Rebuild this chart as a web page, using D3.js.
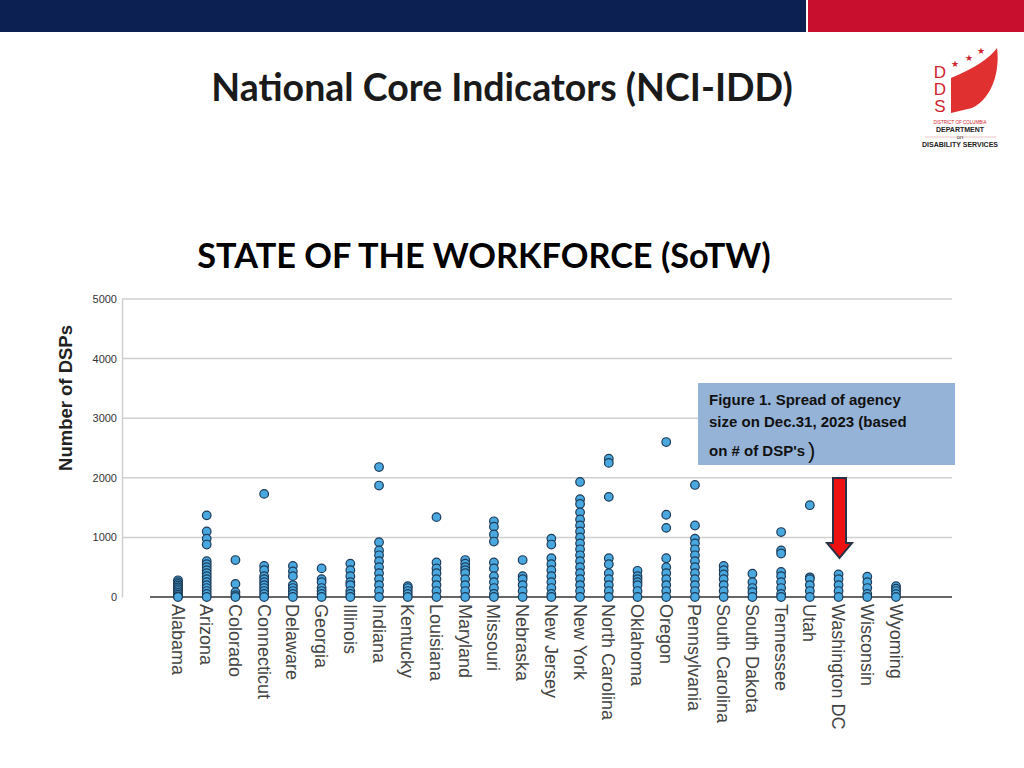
<!DOCTYPE html>
<html><head><meta charset="utf-8">
<script src="https://cdn.jsdelivr.net/npm/d3@7"></script>
<style>body{margin:0;background:#fff}svg{display:block}</style>
</head><body>
<svg id="c" width="1024" height="768"></svg>
<script>
const states = ["Alabama","Arizona","Colorado","Connecticut","Delaware","Georgia","Illinois","Indiana","Kentucky","Louisiana","Maryland","Missouri","Nebraska","New Jersey","New York","North Carolina","Oklahoma","Oregon","Pennsylvania","South Carolina","South Dakota","Tennessee","Utah","Washington DC","Wisconsin","Wyoming"];
const values = [
 [280,250,220,190,160,130,100,70,40,10,0],
 [1370,1100,980,880,600,550,500,450,400,350,300,250,200,150,100,50,0],
 [620,220,80,30,0],
 [1730,520,450,350,300,250,200,150,100,50,0],
 [520,430,350,200,150,100,50,0],
 [480,300,250,150,100,50,0],
 [560,450,350,250,200,100,50,0],
 [2180,1870,920,780,700,600,500,400,300,200,100,0],
 [180,150,100,50,0],
 [1340,580,480,400,300,200,100,0],
 [620,560,500,450,400,300,200,100,0],
 [1270,1180,1050,930,580,480,350,250,150,50,0],
 [620,350,300,200,100,0],
 [980,880,650,550,450,350,250,150,50,0],
 [1930,1640,1560,1420,1300,1200,1100,1000,900,800,700,600,500,400,300,200,100,0],
 [2320,2250,1680,650,550,400,300,200,100,0],
 [440,350,300,250,200,100,0],
 [2600,1380,1160,650,500,400,300,200,100,0],
 [1880,1200,980,900,800,700,600,500,400,300,200,100,0],
 [520,450,380,300,200,100,0],
 [390,250,150,80,0],
 [1090,780,730,420,350,250,150,50,0],
 [1540,330,300,200,100,0],
 [380,300,200,100,0],
 [340,250,150,50,0],
 [180,140,100,50,0]
];
const yTicks = [0,1000,2000,3000,4000,5000];
const boxLines = ["Figure 1. Spread of agency","size on Dec.31, 2023 (based","on # of DSP's"];

const svg = d3.select("#c");
svg.append("rect").attr("x",0).attr("y",0).attr("width",806).attr("height",32).attr("fill","#0c2152");
svg.append("rect").attr("x",808).attr("y",0).attr("width",216).attr("height",32).attr("fill","#c8102e");
svg.append("text").attr("x",502).attr("y",101).attr("text-anchor","middle").attr("font-family","Lato").attr("font-weight","bold").attr("font-size",37.5).attr("fill","#1a1a1a").text("National Core Indicators (NCI-IDD)");
svg.append("text").attr("x",484).attr("y",268).attr("text-anchor","middle").attr("font-family","Lato").attr("font-weight","bold").attr("font-size",34.3).attr("fill","#000").text("STATE OF THE WORKFORCE (SoTW)");

// logo
const lg = svg.append("g").attr("font-family","Liberation Sans").attr("fill","#d0222d");
["D","D","S"].forEach((t,i)=>lg.append("text").attr("x",940).attr("y",78+i*17).attr("text-anchor","middle").attr("font-size",17).text(t));
lg.append("path").attr("d","M951,78 C975,68 990,58 997,48 C1000,70 993,98 972,108 L951,113 Z").attr("fill","#e03030");
[[955,67],[969,61],[981,54]].forEach(p=>lg.append("text").attr("x",p[0]).attr("y",p[1]).attr("font-size",9).attr("text-anchor","middle").text("★"));
lg.append("text").attr("x",960).attr("y",124).attr("text-anchor","middle").attr("font-size",4.5).text("DISTRICT OF COLUMBIA");
svg.append("text").attr("x",960).attr("y",132).attr("text-anchor","middle").attr("font-family","Liberation Sans").attr("font-size",7).attr("font-weight","bold").attr("fill","#222").text("DEPARTMENT");
svg.append("text").attr("x",960).attr("y",139).attr("text-anchor","middle").attr("font-family","Liberation Sans").attr("font-size",6).attr("fill","#222").text("on");
svg.append("line").attr("x1",925).attr("x2",996).attr("y1",137).attr("y2",137).attr("stroke","#e0a0a0").attr("stroke-width",0.6);
svg.append("text").attr("x",960).attr("y",147).attr("text-anchor","middle").attr("font-family","Liberation Sans").attr("font-size",7).attr("font-weight","bold").attr("fill","#222").text("DISABILITY SERVICES");

// chart
const x = d3.scalePoint().domain(states).range([178,896]);
const y = d3.scaleLinear().domain([0,5000]).range([597,299]);
svg.append("g").selectAll("line").data(yTicks.slice(1)).join("line").attr("x1",122).attr("x2",952).attr("y1",d=>y(d)).attr("y2",d=>y(d)).attr("stroke","#cfcfcf").attr("stroke-width",1.5);
const yAxis = svg.append("g").attr("transform","translate(122,0)").call(d3.axisLeft(y).tickValues(yTicks).tickFormat(d3.format("d")).tickSize(0).tickPadding(5));
yAxis.select(".domain").attr("stroke","#cfcfcf").attr("stroke-width",1.5);
yAxis.selectAll("text").attr("font-family","Liberation Sans").attr("font-size",11).attr("fill","#333");
svg.append("line").attr("x1",150).attr("x2",952).attr("y1",597).attr("y2",597).attr("stroke","#333").attr("stroke-width",1.5);
const xAxis = svg.append("g").attr("transform","translate(0,597)").call(d3.axisBottom(x).tickSize(0));
xAxis.select(".domain").remove();
xAxis.selectAll("text").attr("font-family","Liberation Sans").attr("font-size",18).attr("fill","#444")
  .attr("transform","translate(-7,7) rotate(90)").attr("text-anchor","start").attr("dy","0").attr("x",0).attr("y",0);
svg.append("text").attr("transform","translate(72,398) rotate(-90)").attr("text-anchor","middle").attr("font-family","Liberation Sans").attr("font-weight","bold").attr("font-size",18.5).attr("fill","#222").text("Number of DSPs");

const pts = [];
states.forEach((s,i)=>values[i].forEach(v=>pts.push([s,v])));
svg.append("g").selectAll("circle").data(pts).join("circle")
 .attr("cx",d=>x(d[0])).attr("cy",d=>y(d[1])).attr("r",4.3)
 .attr("fill","#4aa8e0").attr("stroke","#1d3b57").attr("stroke-width",1.2);

svg.append("rect").attr("x",698).attr("y",383).attr("width",257).attr("height",82).attr("fill","#95b3d7");
boxLines.forEach((t,i)=>svg.append("text").attr("x",709).attr("y",[405,427,456][i]).attr("font-family","Liberation Sans").attr("font-weight","bold").attr("font-size",15).attr("fill","#111").text(t));
svg.append("text").attr("x",808).attr("y",458).attr("font-family","Liberation Sans").attr("font-size",22).attr("fill","#111").text(")");

svg.append("path").attr("d","M833,478 L846,478 L846,543 L852,543 L839.5,558 L827,543 L833,543 Z").attr("fill","#ee1111").attr("stroke","#2a3346").attr("stroke-width",2);
</script>
</body></html>
